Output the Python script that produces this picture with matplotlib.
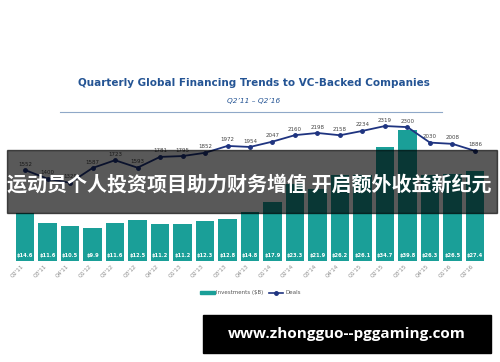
import numpy as np
import matplotlib
matplotlib.use("Agg")
import matplotlib.pyplot as plt
from matplotlib.patches import Rectangle
from matplotlib.lines import Line2D

quarters = ["Q2'11", "Q3'11", "Q4'11", "Q1'12", "Q2'12", "Q3'12", "Q4'12",
            "Q1'13", "Q2'13", "Q3'13", "Q4'13", "Q1'14", "Q2'14", "Q3'14",
            "Q4'14", "Q1'15", "Q2'15", "Q3'15", "Q4'15", "Q1'16", "Q2'16"]
investments = [14.6, 11.6, 10.5, 9.9, 11.6, 12.5, 11.2, 11.2, 12.3, 12.8, 14.8,
               17.9, 23.3, 21.9, 26.2, 26.1, 34.7, 39.8, 26.3, 26.5, 27.4]
deals = [1552, 1400, 1329, 1587, 1723, 1593, 1781, 1795, 1852, 1972, 1954,
         2047, 2160, 2198, 2158, 2234, 2319, 2300, 2030, 2008, 1886]

teal = "#1a9f98"
navy = "#1f3480"
W, H = 500, 362

fig = plt.figure(figsize=(5, 3.62), dpi=100)
fig.patch.set_facecolor("white")

# main axes in pixel coordinates
left, right, top, bottom = 13.8, 486.2, 120, 261
ax = fig.add_axes([left / W, 1 - bottom / H, (right - left) / W, (bottom - top) / H])
x = np.arange(len(quarters))
ax.bar(x, investments, width=0.84, color=teal, zorder=2)
ax.set_xlim(-0.5, len(quarters) - 0.5)
ax.set_ylim(0, 42.9)
for xi, v in zip(x, investments):
    ax.text(xi, 1.8, f"${v}", ha="center", va="center", color="white",
            fontsize=3.7, fontweight="bold", zorder=3)
ax.set_xticks(x)
ax.set_xticklabels(quarters, rotation=45, ha="right", fontsize=4, color="#8a8a8a")
ax.tick_params(axis="x", length=0, pad=2)
ax.set_yticks([])
for s in ax.spines.values():
    s.set_visible(False)

ax2 = ax.twinx()
ax2.plot(x, deals, color=navy, lw=1.3, marker="o", ms=2.5, zorder=4)
ax2.set_ylim(-34, 2424)
for xi, v in zip(x, deals):
    ax2.text(xi, v + 60, str(v), ha="center", va="bottom", fontsize=4, color="#444444")
ax2.set_yticks([])
for s in ax2.spines.values():
    s.set_visible(False)

# title, subtitle, rule
fig.text(254 / W, 1 - 83 / H, "Quarterly Global Financing Trends to VC-Backed Companies",
         ha="center", va="center", fontsize=7.5, fontweight="bold", color="#245494")
fig.text(254 / W, 1 - 101 / H, "Q2\u201911 \u2013 Q2\u201916", ha="center", va="center",
         fontsize=5.3, style="italic", color="#245494")
fig.add_artist(Line2D([60 / W, 442 / W], [1 - 112 / H, 1 - 112 / H],
                      color="#8fa8c8", lw=0.8))

# legend
fig.add_artist(Rectangle((200 / W, 1 - 294 / H), 15 / W, 3 / H, color=teal,
                         transform=fig.transFigure))
fig.text(216 / W, 1 - 292.5 / H, "Investments ($B)", ha="left", va="center",
         fontsize=4, color="#555555")
fig.add_artist(Line2D([269 / W, 283 / W], [1 - 292.5 / H, 1 - 292.5 / H],
                      color=navy, lw=1.2, transform=fig.transFigure))
fig.add_artist(Line2D([276 / W], [1 - 292.5 / H], color=navy, marker="o", ms=2.5,
                      transform=fig.transFigure))
fig.text(285 / W, 1 - 292.5 / H, "Deals", ha="left", va="center",
         fontsize=4, color="#555555")

# overlay banner
fig.add_artist(Rectangle((7 / W, 1 - 213 / H), 490 / W, 63 / H, color="black",
                         alpha=0.65, transform=fig.transFigure, zorder=10))
fig.text(249 / W, 1 - 184 / H, "运动员个人投资项目助力财务增值 开启额外收益新纪元",
         ha="center", va="center", fontsize=14.4, fontweight="bold", color="white",
         family=["Noto Sans CJK SC", "DejaVu Sans"], zorder=11)

# watermark box
fig.add_artist(Rectangle((203 / W, 1 - 353 / H), 288 / W, 38 / H, color="black",
                         transform=fig.transFigure, zorder=10))
fig.text(347 / W, 1 - 334 / H, "www.zhongguo--pggaming.com", ha="center", va="center",
         fontsize=11, fontweight="bold", color="white", family="Open Sans", zorder=11)

fig.savefig("out.png", dpi=100)
